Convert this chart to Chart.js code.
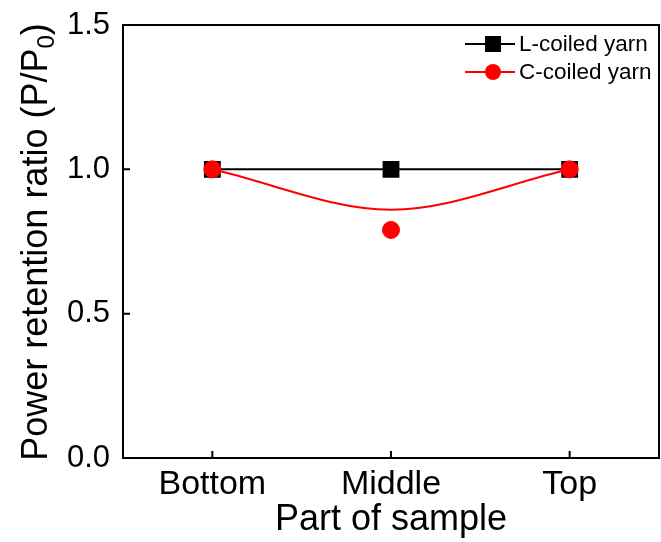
<!DOCTYPE html>
<html>
<head>
<meta charset="utf-8">
<script src="https://cdn.jsdelivr.net/npm/chart.js@4"></script>
<style>
  html, body { margin: 0; padding: 0; background: #fff; overflow: hidden; }
  #wrap { width: 661px; height: 542px; }
  canvas { display: block; }
</style>
</head>
<body>
<div id="wrap"><canvas id="myChart" width="661" height="542"></canvas></div>
<script>
var parts = ['Bottom', 'Middle', 'Top'];
var lCoiled = [1.0, 1.0, 1.0];
var cCoiled = [1.0, 0.79, 1.0];
var cCoiledFit = [1.0, 0.86, 1.0];   // smooth red fit curve
var yTicks = [0.0, 0.5, 1.0, 1.5];

var FONT = "'Liberation Sans', Arial, sans-serif";

// box, inward ticks, y title with subscript, legend
var decor = {
  id: 'decor',
  afterDraw: function (chart) {
    var ctx = chart.ctx;
    var a = chart.chartArea;
    var xs = chart.scales.x, ys = chart.scales.y;
    ctx.save();
    ctx.strokeStyle = '#000';
    ctx.lineWidth = 2;
    ctx.strokeRect(a.left, a.top, a.right - a.left, a.bottom - a.top);
    ctx.beginPath();
    for (var i = 0; i < parts.length; i++) {
      var px = xs.getPixelForValue(i);
      ctx.moveTo(px, a.bottom);
      ctx.lineTo(px, a.bottom - 7);
    }
    yTicks.forEach(function (v) {
      var py = ys.getPixelForValue(v);
      ctx.moveTo(a.left, py);
      ctx.lineTo(a.left + 7, py);
    });
    ctx.stroke();

    // y title
    ctx.fillStyle = '#000';
    ctx.translate(47, 242);
    ctx.rotate(-Math.PI / 2);
    ctx.textBaseline = 'alphabetic';
    var big = '36px ' + FONT, small = '24px ' + FONT;
    var t1 = 'Power retention ratio (P/P', t2 = '0', t3 = ')';
    ctx.font = big;
    var w1 = ctx.measureText(t1).width, w3 = ctx.measureText(t3).width;
    ctx.font = small;
    var w2 = ctx.measureText(t2).width;
    var x0 = -(w1 + w2 + w3) / 2;
    ctx.font = big;
    ctx.fillText(t1, x0, 0);
    ctx.font = small;
    ctx.fillText(t2, x0 + w1, 7);
    ctx.font = big;
    ctx.fillText(t3, x0 + w1 + w2, 0);
    ctx.restore();

    // legend
    var items = [
      { text: 'L-coiled yarn', color: '#000', style: 'rect' },
      { text: 'C-coiled yarn', color: '#ff0000', style: 'circle' }
    ];
    ctx.save();
    ctx.font = '22.5px ' + FONT;
    ctx.textBaseline = 'middle';
    items.forEach(function (it, k) {
      var y = 44 + k * 28;
      ctx.strokeStyle = it.color;
      ctx.fillStyle = it.color;
      ctx.lineWidth = 2;
      ctx.beginPath();
      ctx.moveTo(465, y);
      ctx.lineTo(515, y);
      ctx.stroke();
      ctx.beginPath();
      if (it.style === 'rect') {
        ctx.rect(485, y - 8, 16, 16);
      } else {
        ctx.arc(493, y, 8, 0, Math.PI * 2);
      }
      ctx.fill();
      ctx.fillStyle = '#000';
      ctx.fillText(it.text, 519, y + 1);
    });
    ctx.restore();
  }
};

new Chart(document.getElementById('myChart'), {
  type: 'line',
  data: {
    labels: parts,
    datasets: [{
      label: 'C-coiled yarn',
      data: cCoiled,
      showLine: false,
      pointStyle: 'circle',
      pointRadius: 8.5,
      pointBackgroundColor: '#ff0000',
      pointBorderColor: '#ff0000',
      borderColor: '#ff0000'
    }, {
      label: 'C-coiled fit',
      data: cCoiledFit,
      borderColor: '#ff0000',
      borderWidth: 2,
      cubicInterpolationMode: 'monotone',
      pointRadius: 0
    }, {
      label: 'L-coiled yarn',
      data: lCoiled,
      borderColor: '#000',
      borderWidth: 2,
      pointStyle: 'rect',
      pointRadius: 10.5,
      pointBackgroundColor: '#000',
      pointBorderColor: '#000'
    }]
  },
  options: {
    responsive: false,
    animation: false,
    layout: { autoPadding: false, padding: { top: 25, right: 2, left: 0, bottom: 0 } },
    plugins: { legend: { display: false }, tooltip: { enabled: false } },
    scales: {
      x: {
        offset: true,
        grid: { display: false },
        border: { display: false },
        ticks: { color: '#000', font: { family: FONT, size: 34 }, padding: -2, maxRotation: 0 },
        title: { display: true, text: 'Part of sample', color: '#000', font: { family: FONT, size: 36 }, padding: 0 },
        afterFit: function (s) { s.height = 84; s.paddingLeft = 0; s.paddingRight = 0; }
      },
      y: {
        min: 0,
        max: 1.5,
        grid: { display: false },
        border: { display: false },
        afterBuildTicks: function (s) { s.ticks = yTicks.map(function (v) { return { value: v }; }); },
        ticks: {
          color: '#000',
          font: { family: FONT, size: 31 },
          padding: 5,
          callback: function (v) { return v.toFixed(1); }
        },
        afterFit: function (s) { s.width = 123; s.paddingTop = 0; s.paddingBottom = 0; }
      }
    }
  },
  plugins: [decor]
});
</script>
</body>
</html>
